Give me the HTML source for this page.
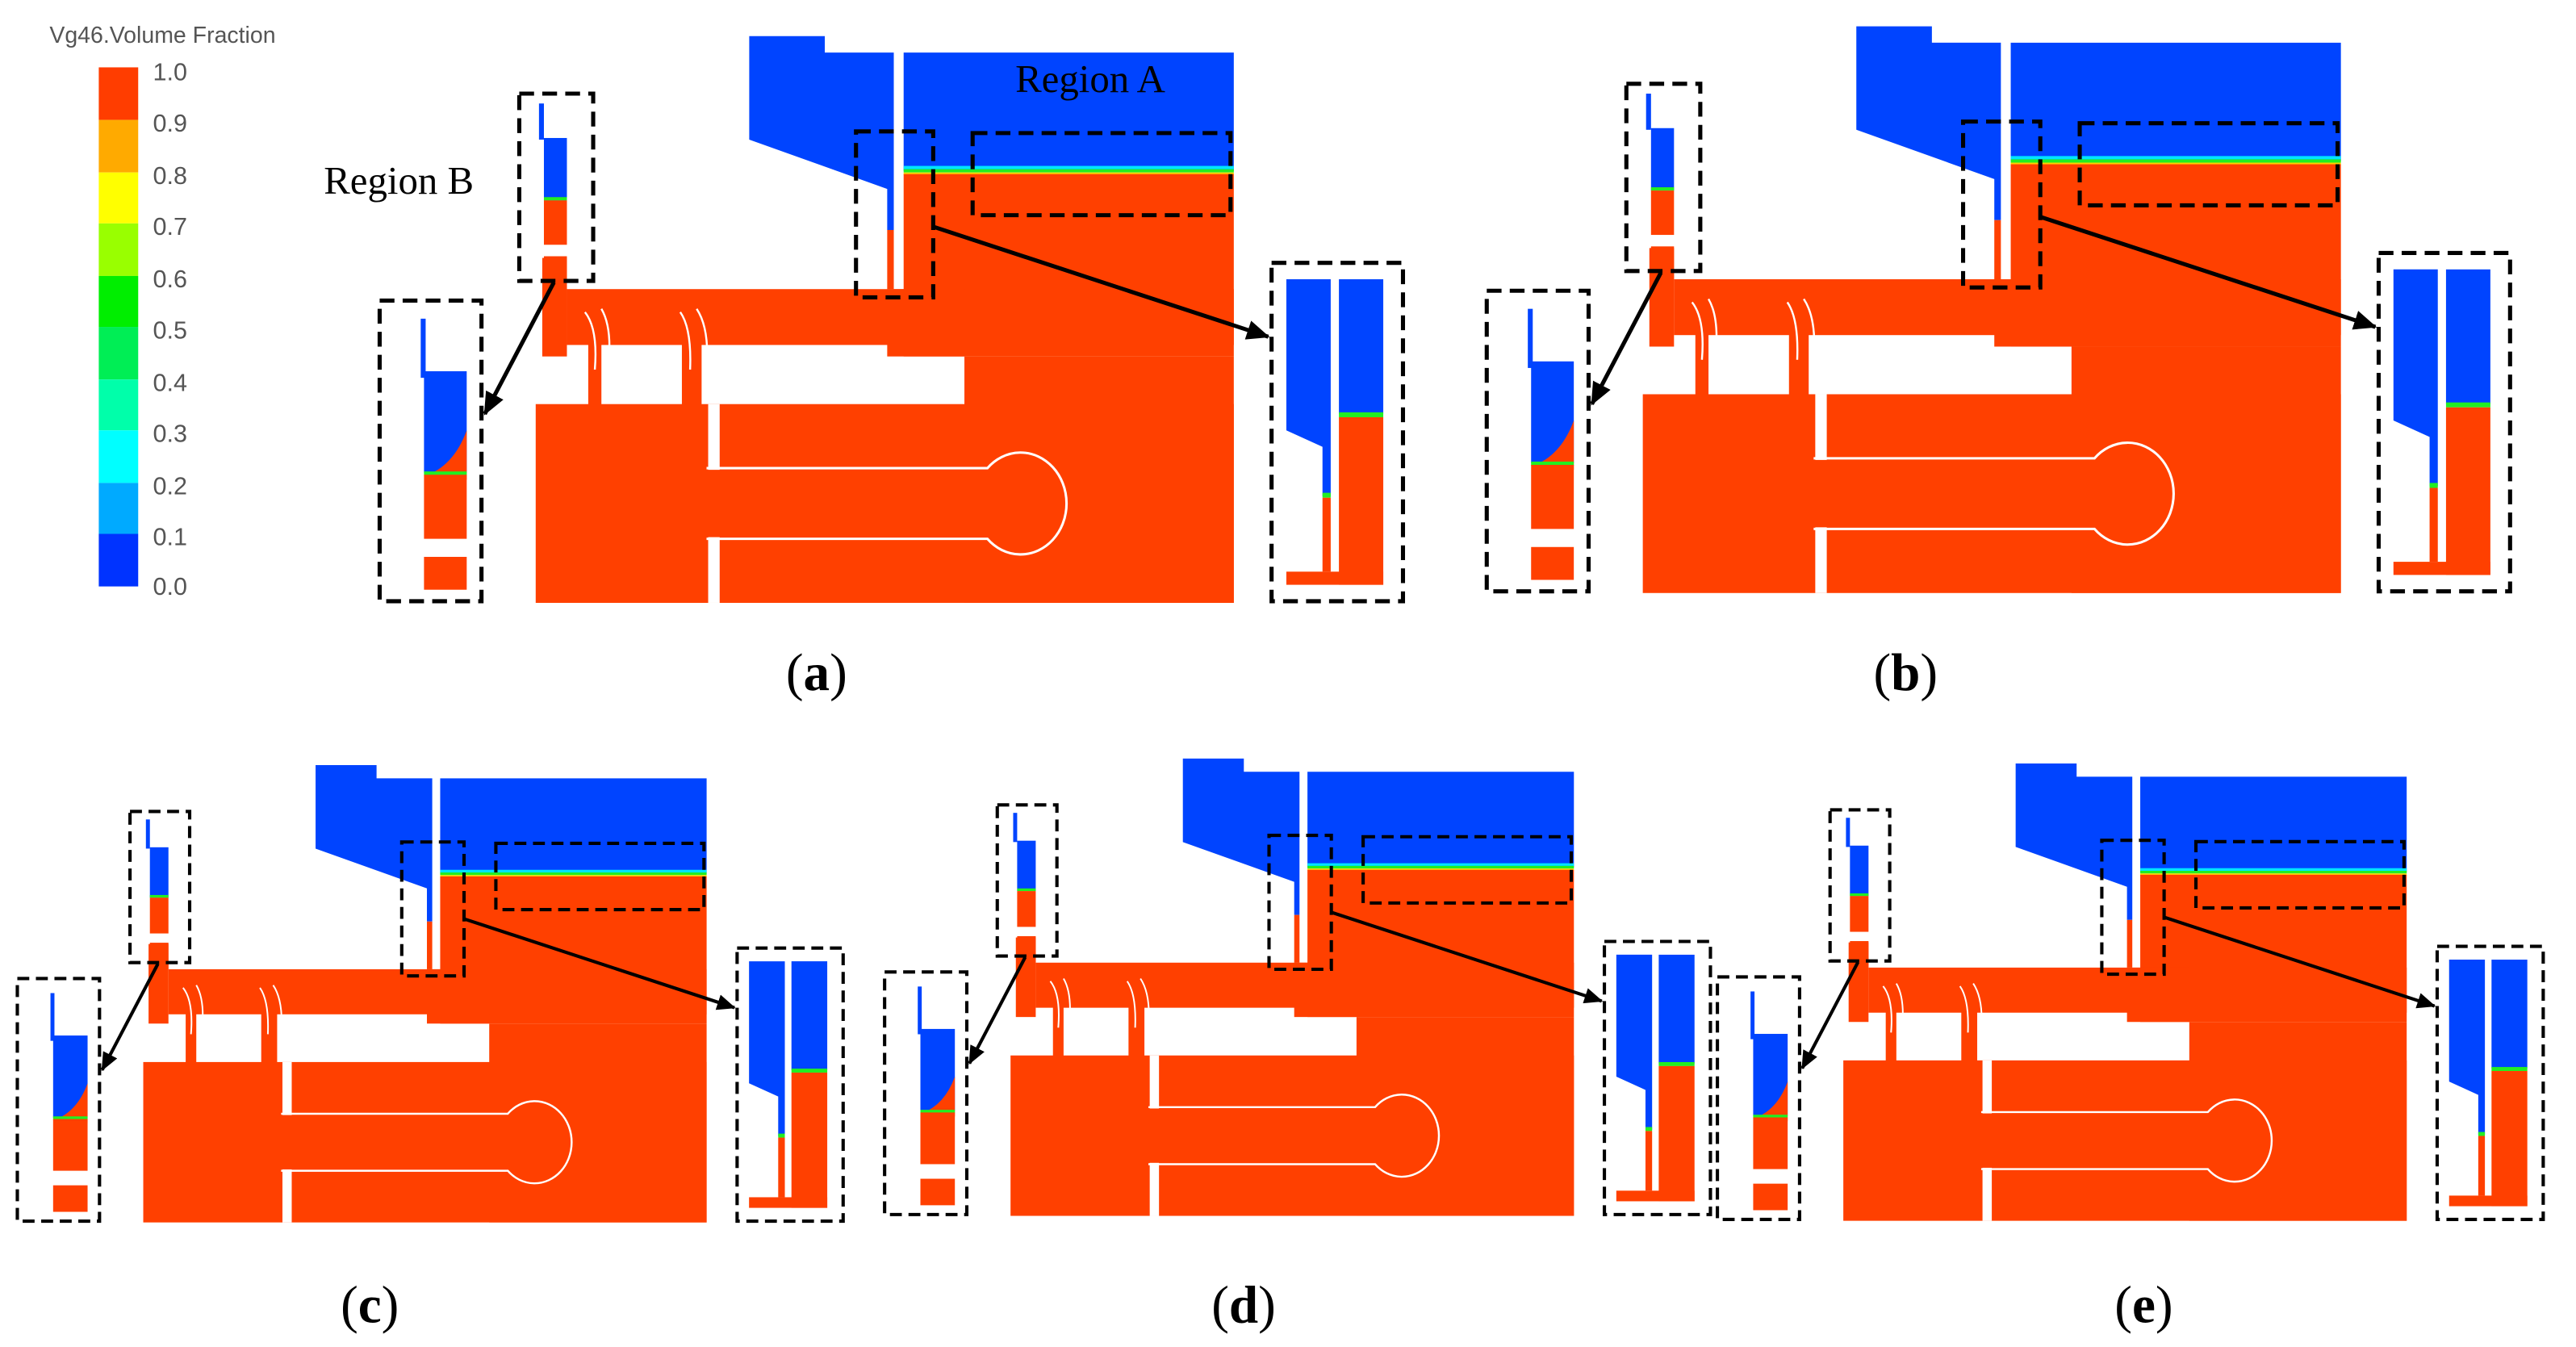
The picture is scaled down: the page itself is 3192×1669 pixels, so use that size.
<!DOCTYPE html>
<html><head><meta charset="utf-8"><style>
html,body{margin:0;padding:0;background:#fff;}
svg{display:block;}
</style></head><body>
<svg width="3192" height="1669" viewBox="0 0 1568 820" xmlns="http://www.w3.org/2000/svg">
<defs>
<marker id="ah" markerWidth="14" markerHeight="12" refX="13" refY="6" orient="auto" markerUnits="userSpaceOnUse"><path d="M0,0 L14,6 L0,12 Z" fill="#000"/></marker>
<g id="panel">
  <path d="M456,22 L502,22 L502,32 L544,32 L544,140 L540,140 L540,115 L456,85 Z" fill="#0044ff"/>
  <rect x="550" y="32" width="201" height="72" fill="#0044ff"/>
  <rect x="550" y="101" width="201" height="2" fill="#00e5ff"/>
  <rect x="550" y="103" width="201" height="2" fill="#22ee22"/>
  <rect x="550" y="105" width="201" height="1.5" fill="#ffd000"/>
  <rect x="550" y="106" width="201" height="111" fill="#ff4000"/>
  <rect x="587" y="217" width="164" height="150" fill="#ff4000"/>
  <rect x="540" y="140" width="4" height="36" fill="#ff4000"/>
  <rect x="345" y="176" width="406" height="34" fill="#ff4000"/>
  <rect x="540" y="176" width="47" height="41" fill="#ff4000"/>
  <rect x="330" y="157" width="15" height="60" fill="#ff4000"/>
  <rect x="326" y="246" width="425" height="121" fill="#ff4000"/>
  <rect x="358" y="205" width="8" height="42" fill="#ff4000"/>
  <rect x="415" y="205" width="12" height="42" fill="#ff4000"/>
  <path d="M356,190 Q364,200 362,225 M366,188 Q373,200 370,225 M414,190 Q421,200 420,225 M424,188 Q432,200 430,225" stroke="#fff" stroke-width="1.2" fill="none"/>
  <rect x="431" y="246" width="7" height="40" fill="#fff"/>
  <rect x="431" y="327" width="7" height="40" fill="#fff"/>
  <path d="M430,285 L601,285 A28,31 0 1 1 601,328 L430,328" stroke="#fff" stroke-width="1.5" fill="none"/>
  <rect x="328" y="63" width="3" height="22" fill="#0044ff"/>
  <rect x="331" y="84" width="14" height="38" fill="#0044ff"/>
  <rect x="331" y="120" width="14" height="2" fill="#22ee22"/>
  <rect x="331" y="122" width="14" height="27" fill="#ff4000"/>
  <rect x="331" y="156" width="14" height="20" fill="#ff4000"/>
  <g fill="none" stroke="#000" stroke-width="2.5" stroke-dasharray="9,5">
    <rect x="316" y="57" width="45" height="114"/>
    <rect x="521" y="80" width="47" height="101"/>
    <rect x="592" y="81" width="157" height="50"/>
    <rect x="774" y="160" width="80" height="206"/>
    <rect x="231" y="183" width="62" height="183"/>
  </g>
  <line x1="568" y1="138" x2="772" y2="205" stroke="#000" stroke-width="2.5" marker-end="url(#ah)"/>
  <line x1="337" y1="172" x2="295" y2="252" stroke="#000" stroke-width="2.5" marker-end="url(#ah)"/>
  <path d="M783,170 L810,170 L810,302 L805,302 L805,272 L783,262 Z" fill="#0044ff"/>
  <rect x="805" y="300" width="5" height="3" fill="#22ee22"/>
  <rect x="805" y="303" width="5" height="45" fill="#ff4000"/>
  <rect x="815" y="170" width="27" height="82" fill="#0044ff"/>
  <rect x="815" y="251" width="27" height="3" fill="#22ee22"/>
  <rect x="815" y="254" width="27" height="102" fill="#ff4000"/>
  <rect x="783" y="348" width="59" height="8" fill="#ff4000"/>
  <rect x="256" y="194" width="3" height="36" fill="#0044ff"/>
  <rect x="258" y="226" width="26" height="62" fill="#0044ff"/>
  <path d="M258,290 Q276,284 284,262 L284,292 Z" fill="#ff4000"/>
  <rect x="258" y="287" width="26" height="2.5" fill="#22ee22"/>
  <rect x="258" y="289" width="26" height="39" fill="#ff4000"/>
  <rect x="258" y="339" width="26" height="20" fill="#ff4000"/>
</g>
</defs>

<text x="30" y="26" font-family="Liberation Sans, sans-serif" font-size="14" fill="#555">Vg46.Volume Fraction</text>
<rect x="60" y="41" width="24" height="32" fill="#ff3d00"/>
<rect x="60" y="73" width="24" height="32" fill="#ffaa00"/>
<rect x="60" y="105" width="24" height="31" fill="#ffff00"/>
<rect x="60" y="136" width="24" height="32" fill="#99ff00"/>
<rect x="60" y="168" width="24" height="31" fill="#00ee00"/>
<rect x="60" y="199" width="24" height="32" fill="#00ee55"/>
<rect x="60" y="231" width="24" height="31" fill="#00ffaa"/>
<rect x="60" y="262" width="24" height="32" fill="#00ffff"/>
<rect x="60" y="294" width="24" height="31" fill="#00aaff"/>
<rect x="60" y="325" width="24" height="32" fill="#0033ff"/>
<g font-family="Liberation Sans, sans-serif" font-size="15" fill="#555">
<text x="93" y="49">1.0</text><text x="93" y="80">0.9</text><text x="93" y="112">0.8</text><text x="93" y="143">0.7</text><text x="93" y="175">0.6</text><text x="93" y="206">0.5</text><text x="93" y="238">0.4</text><text x="93" y="269">0.3</text><text x="93" y="301">0.2</text><text x="93" y="332">0.1</text><text x="93" y="362">0.0</text>
</g>

<use href="#panel"/>
<use href="#panel" transform="translate(674,-6)"/>
<use href="#panel" transform="translate(-176,448) scale(0.807)"/>
<use href="#panel" transform="translate(352,444) scale(0.807)"/>
<use href="#panel" transform="translate(859,447) scale(0.807)"/>

<g font-family="Liberation Serif, serif" font-size="24" fill="#000">
<text x="618" y="56">Region A</text>
<text x="197" y="118">Region B</text>
</g>
<g font-family="Liberation Serif, serif" font-size="32" fill="#000" text-anchor="middle">
<text x="497" y="420">(<tspan font-weight="bold">a</tspan>)</text>
<text x="1160" y="420">(<tspan font-weight="bold">b</tspan>)</text>
<text x="225" y="805">(<tspan font-weight="bold">c</tspan>)</text>
<text x="757" y="805">(<tspan font-weight="bold">d</tspan>)</text>
<text x="1305" y="805">(<tspan font-weight="bold">e</tspan>)</text>
</g>
</svg>
</body></html>
